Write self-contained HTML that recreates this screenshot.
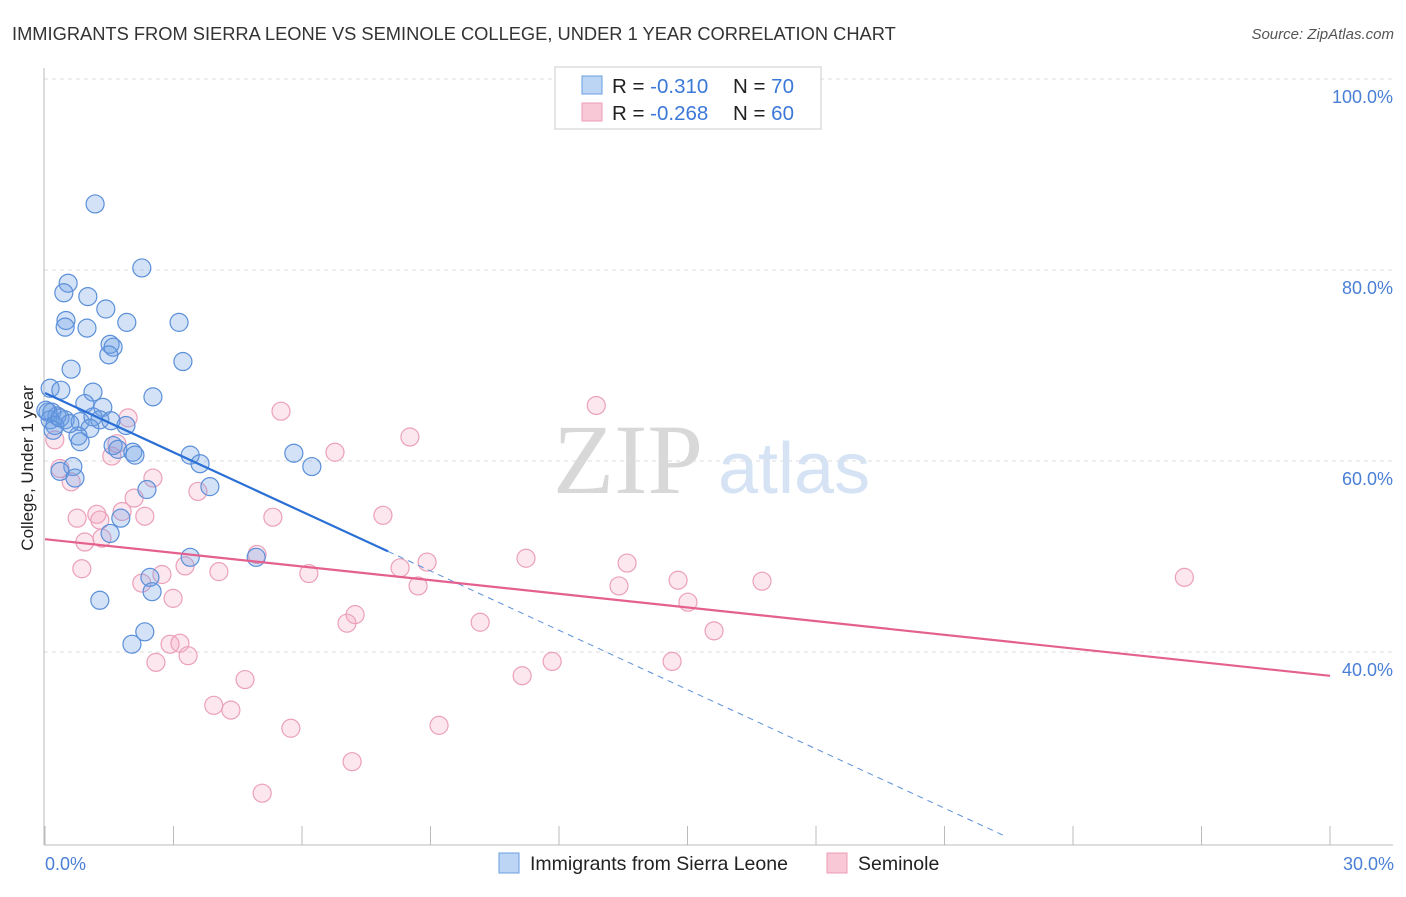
<!DOCTYPE html>
<html><head><meta charset="utf-8"><style>
body{margin:0;background:#fff;font-family:"Liberation Sans",sans-serif}
svg text{font-family:"Liberation Sans",sans-serif}
</style></head><body>
<svg id="chart" width="1406" height="892" viewBox="0 0 1406 892">
<text x="12" y="40" font-size="18.3" fill="#333">IMMIGRANTS FROM SIERRA LEONE VS SEMINOLE COLLEGE, UNDER 1 YEAR CORRELATION CHART</text>
<text x="1394" y="39" font-size="15" fill="#555" font-style="italic" text-anchor="end">Source: ZipAtlas.com</text>
<g>
<text x="553" y="493" font-size="100" fill="#d8d8d8" style="font-family:'Liberation Serif',serif">ZIP</text>
<text x="718" y="493" font-size="72" fill="#d5e3f5">atlas</text>
</g>
<g id="grid"></g>
<line x1="44" y1="68" x2="44" y2="845" stroke="#bbb"/>
<line x1="44" y1="845" x2="1393" y2="845" stroke="#bbb"/>
<g id="xticks"></g>
<text x="20" y="455" font-size="17" fill="#222" transform="rotate(-90 33 455)" text-anchor="middle">College, Under 1 year</text>
<text x="45" y="870" font-size="18" fill="#4a7fd6">0.0%</text>
<text x="1394" y="870" font-size="18" fill="#4a7fd6" text-anchor="end">30.0%</text>
<g id="pts"></g>
<g id="lines"></g>
<g>
<rect x="555" y="67" width="266" height="62" fill="#fff" stroke="#ccc"/>
<rect x="582" y="76" width="20" height="18" fill="#bcd5f5" stroke="#6a9ee0"/>
<rect x="582" y="103" width="20" height="18" fill="#f9c8d6" stroke="#ec9cb6"/>
<text x="612" y="93" font-size="20.5" fill="#222">R = <tspan fill="#3b78d8">-0.310</tspan></text>
<text x="733" y="93" font-size="20.5" fill="#222">N = <tspan fill="#3b78d8">70</tspan></text>
<text x="612" y="120" font-size="20.5" fill="#222">R = <tspan fill="#3b78d8">-0.268</tspan></text>
<text x="733" y="120" font-size="20.5" fill="#222">N = <tspan fill="#3b78d8">60</tspan></text>
</g>
<g>
<rect x="499" y="853" width="20" height="20" fill="#bcd5f5" stroke="#6a9ee0"/>
<text x="530" y="870" font-size="19.5" fill="#222">Immigrants from Sierra Leone</text>
<rect x="827" y="853" width="20" height="20" fill="#f9c8d6" stroke="#ec9cb6"/>
<text x="858" y="870" font-size="19.5" fill="#222">Seminole</text>
</g>
</svg>
<script>
const yTicks=[100,80,60,40];
const yTickLabels=["100.0%","80.0%","60.0%","40.0%"];
const xTicks=[0,3,6,9,12,15,18,21,24,27,30];
const blueX=[1.17,2.26,0.54,0.44,1.0,1.42,0.49,0.47,0.98,1.91,3.13,1.52,1.59,1.49,3.22,0.61,0.12,0.37,1.12,2.52,0.93,1.35,0.16,0.28,0.47,0.82,1.12,1.28,1.54,1.89,1.05,0.77,0.82,1.59,1.7,2.05,2.1,3.39,3.62,5.81,6.23,3.85,2.38,0.65,0.35,0.7,1.77,1.52,3.39,4.93,2.45,2.5,1.28,2.33,2.03,0.07,0.12,0.23,0.02,0.19,0.35,0.58];
const blueY=[88.8,82.1,80.5,79.5,79.1,77.8,76.6,75.9,75.8,76.4,76.4,74.1,73.8,73.0,72.3,71.5,69.5,69.3,69.1,68.6,67.9,67.5,67.0,66.6,66.2,66.0,66.5,66.2,66.1,65.6,65.3,64.5,63.9,63.5,63.1,62.8,62.5,62.5,61.6,62.7,61.3,59.2,58.9,61.3,60.8,60.1,55.9,54.3,51.8,51.8,49.7,48.2,47.3,44.0,42.7,67.0,66.2,65.6,67.2,65.1,66.4,65.8];
const pinkX=[5.51,12.87,1.94,8.52,0.23,1.68,6.77,1.56,2.52,0.35,0.61,3.57,2.08,0.75,1.21,1.28,1.8,2.33,5.32,7.89,0.93,1.33,4.95,11.23,8.92,13.59,3.27,0.86,2.73,4.06,6.16,8.29,8.71,2.26,13.4,14.78,16.74,26.6,2.99,15.01,7.24,7.05,10.16,15.62,2.92,3.15,3.34,2.59,11.84,14.64,11.14,4.67,3.94,4.34,9.2,5.74,7.17,5.07];
const pinkY=[67.1,67.7,66.4,64.4,64.1,63.7,62.8,62.4,60.1,61.1,59.7,58.7,58.0,55.9,56.3,55.7,56.6,56.1,56.0,56.2,53.4,53.8,52.1,51.7,51.3,51.2,50.9,50.6,50.0,50.3,50.1,50.7,48.8,49.1,48.8,49.4,49.3,49.7,47.5,47.1,45.8,44.9,45.0,44.1,42.7,42.8,41.5,40.8,40.9,40.9,39.4,39.0,36.3,35.8,34.2,33.9,30.4,27.1];
const blueTrend=[69.0,-2.07];
const blueSolidEnd=8.01, blueDashEnd=22.46;
const pinkTrend=[53.7,-0.477];
const NS="http://www.w3.org/2000/svg";
function X(v){return 45+v/30*1285;}
function Y(v){return 97+(100-v)*9.55;}
function mk(tag,attrs,parent){const e=document.createElementNS(NS,tag);for(const k in attrs)e.setAttribute(k,attrs[k]);document.getElementById(parent).appendChild(e);return e;}
yTicks.forEach((t,i)=>{
 const l=mk('line',{x1:44,x2:1393,y1:Y(t)-18,y2:Y(t)-18,stroke:'#ddd','stroke-dasharray':'4,4'},'grid');
 
 
 const tx=mk('text',{x:1393,y:Y(t)+6,'font-size':18,fill:'#4a7fd6','text-anchor':'end'},'grid');
 tx.textContent=yTickLabels[i];
 
 
});
xTicks.forEach(t=>{
 const l=mk('line',{x1:X(t),x2:X(t),y1:826,y2:845,stroke:'#bbb'},'xticks');
 
 
});
function pts(xs,ys,fill,stroke,name){
 xs.forEach((x,i)=>{
  const c=mk('circle',{cx:X(x),cy:Y(ys[i]),r:9,fill:fill,stroke:stroke,'stroke-width':1.2},'pts');
  
  
 });
}
pts(pinkX,pinkY,'rgba(244,160,188,0.25)','#eba0b9','seminole-point');
pts(blueX,blueY,'rgba(110,160,230,0.3)','#5b8fd9','sierra-leone-point');
const bl=mk('line',{x1:X(0),y1:Y(blueTrend[0]),x2:X(blueSolidEnd),y2:Y(blueTrend[0]+blueTrend[1]*blueSolidEnd),stroke:'#2a6fd6','stroke-width':2.2},'lines');


const bd=mk('line',{x1:X(blueSolidEnd),y1:Y(blueTrend[0]+blueTrend[1]*blueSolidEnd),x2:X(blueDashEnd),y2:Y(blueTrend[0]+blueTrend[1]*blueDashEnd),stroke:'#5b8fd9','stroke-width':1,'stroke-dasharray':'6,5'},'lines');


const pl=mk('line',{x1:X(0),y1:Y(pinkTrend[0]),x2:X(30),y2:Y(pinkTrend[0]+pinkTrend[1]*30),stroke:'#e4608e','stroke-width':2.2},'lines');


</script>
</body></html>
